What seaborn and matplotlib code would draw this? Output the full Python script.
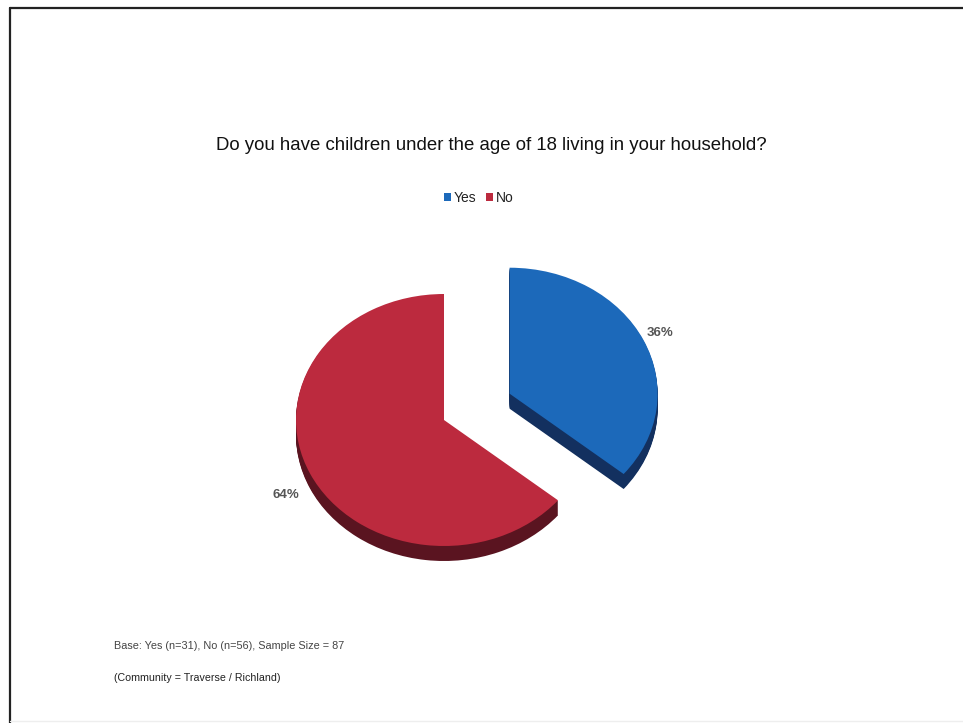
import matplotlib
matplotlib.use("Agg")
import matplotlib.pyplot as plt
from matplotlib.lines import Line2D
import numpy as np
import seaborn as sns

W, H = 963, 723

# chart values
categories = ["Yes", "No"]
percents = [36, 64]
top_colors = ["#1C69BA", "#BC2A3E"]
side_colors = ["#13305F", "#5A1420"]

title = "Do you have children under the age of 18 living in your household?"
base_note = "Base: Yes (n=31), No (n=56), Sample Size = 87"
community_note = "(Community = Traverse / Richland)"

sns.set_theme(style="white")
plt.rcParams["font.family"] = ["Liberation Sans", "DejaVu Sans"]


def fx(x):
    return x / W


def fy(y):
    return 1 - y / H


fig = plt.figure(figsize=(W / 100, H / 100), dpi=100, facecolor="white")
ax = fig.add_axes([0, 0, 1, 1])

# one pie radius is 148 px across and 126 px down, squashed to look tilted
rx, ry = 148, 126
cx, cy = 444, 420
depth = 15
flat = dict(linewidth=0)

# stacked darker pies make the side of the 3D pie
for d in np.arange(depth, 0, -1):
    ax.pie(percents, colors=side_colors, startangle=90, counterclock=False,
           explode=[0.49, 0], radius=1, center=(0, -d / ry), frame=False,
           wedgeprops=flat)
wedges, _ = ax.pie(percents, colors=top_colors, startangle=90, counterclock=False,
                   explode=[0.49, 0], radius=1, center=(0, 0), frame=False,
                   wedgeprops=flat)

ax.set_aspect("auto")
ax.set_xlim(-cx / rx, (W - cx) / rx)
ax.set_ylim(-(H - cy) / ry, cy / ry)
ax.axis("off")

fig.text(fx(491.5), fy(145), title, fontsize=13.4, color="#111111", ha="center", va="center")

fig.legend(wedges, categories, loc="center", bbox_to_anchor=(fx(479), fy(198)),
           ncol=2, frameon=False, fontsize=10, handlelength=0.5, handleheight=0.5,
           handletextpad=0.2, columnspacing=0.7, labelcolor="#222222")

fig.text(fx(660), fy(333), f"{percents[0]}%", fontsize=9.5, fontweight="bold",
         color="#555555", ha="center", va="center")
fig.text(fx(286), fy(495), f"{percents[1]}%", fontsize=9.5, fontweight="bold",
         color="#555555", ha="center", va="center")

fig.text(fx(114), fy(646), base_note, fontsize=7.8, color="#444444", ha="left", va="center")
fig.text(fx(114), fy(678), community_note, fontsize=7.7, color="#222222", ha="left", va="center")

# scanned page frame, the bottom edge is barely visible
fig.add_artist(Line2D([fx(10), fx(963)], [fy(8), fy(8)], color="#222222", lw=1.6))
fig.add_artist(Line2D([fx(10), fx(10)], [fy(8), fy(723)], color="#222222", lw=1.6))
fig.add_artist(Line2D([fx(10), fx(963)], [fy(721), fy(721)], color="#EEEEEE", lw=1.0))

fig.savefig("out.png", dpi=100)
